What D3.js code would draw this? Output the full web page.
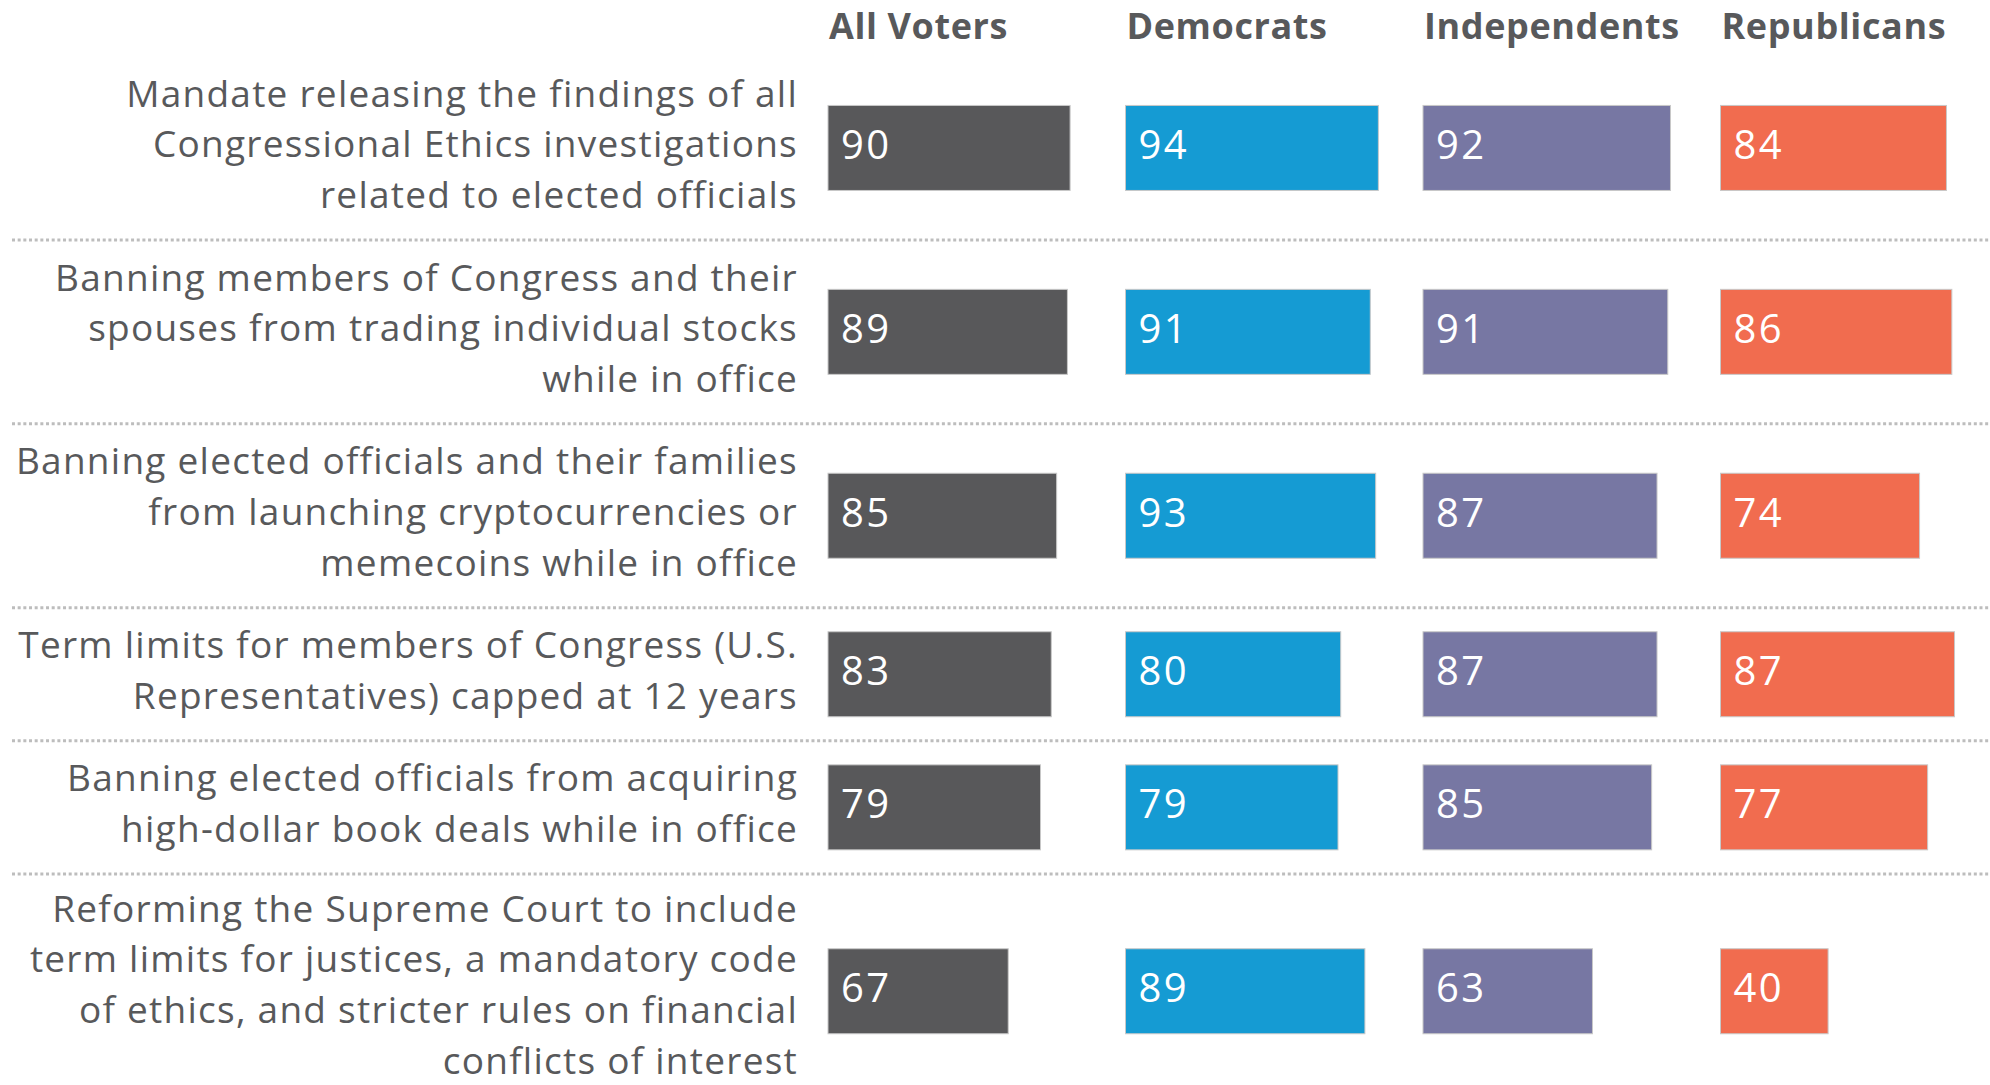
<!DOCTYPE html>
<html>
<head>
<meta charset="utf-8">
<script src="https://cdn.jsdelivr.net/npm/d3@7"></script>
<style>
  html, body { margin: 0; padding: 0; background: #ffffff; }
  svg { display: block; }
</style>
</head>
<body>
<svg id="chart" width="1990" height="1085"></svg>
<script>
// ---- Data ----
const groups = ["All Voters", "Democrats", "Independents", "Republicans"];
const categories = [
  ["Mandate releasing the findings of all", "Congressional Ethics investigations", "related to elected officials"],
  ["Banning members of Congress and their", "spouses from trading individual stocks", "while in office"],
  ["Banning elected officials and their families", "from launching cryptocurrencies or", "memecoins while in office"],
  ["Term limits for members of Congress (U.S.", "Representatives) capped at 12 years"],
  ["Banning elected officials from acquiring", "high-dollar book deals while in office"],
  ["Reforming the Supreme Court to include", "term limits for justices, a mandatory code", "of ethics, and stricter rules on financial", "conflicts of interest"]
];
const allVoters    = [90, 89, 85, 83, 79, 67];
const democrats    = [94, 91, 93, 80, 79, 89];
const independents = [92, 91, 87, 87, 85, 63];
const republicans  = [84, 86, 74, 87, 77, 40];
const colors = ["#58585a", "#159bd3", "#7777a3", "#f16c4f"];

const seriesValues = [allVoters, democrats, independents, republicans];

// ---- Layout ----
const W = 1990, H = 1085;
const svg = d3.select("#chart");
const textColor = "#58595b";
const font = "'Open Sans', Lato, sans-serif";
const lineH = 50.8;
const rowPad = 31.5;
const firstRowTop = 56;
const labelRight = 798;
const barH = 85;
const labelSize = 37;

const rows = [];
let yCursor = firstRowTop;
categories.forEach((lines, i) => {
  const h = lines.length * lineH + rowPad;
  rows.push({ i, lines, top: yCursor, h, center: yCursor + h / 2 });
  yCursor += h;
});

const col = d3.scaleBand().domain(groups).range([828, 828 + 4 * 297.5]).paddingInner(0).paddingOuter(0);
const x = d3.scaleLinear().domain([0, 100]).range([0, 269]);

// Headers
svg.append("g").selectAll("text")
  .data(groups)
  .join("text")
  .attr("x", d => col(d) + 1)
  .attr("y", 39)
  .attr("fill", textColor)
  .attr("font-family", font)
  .attr("font-weight", 700)
  .attr("font-size", 36)
  .attr("letter-spacing", 0.6)
  .text(d => d);

// Separators (dotted)
svg.append("g").selectAll("line")
  .data(rows.slice(0, rows.length - 1))
  .join("line")
  .attr("x1", 12)
  .attr("x2", W)
  .attr("y1", d => d.top + d.h)
  .attr("y2", d => d.top + d.h)
  .attr("stroke", "#bdbdbd")
  .attr("stroke-width", 3)
  .attr("stroke-dasharray", "3,2.67");

// Category labels (kept inside the canvas)
const lab = svg.append("g").selectAll("text")
  .data(rows)
  .join("text")
  .attr("text-anchor", "end")
  .attr("fill", textColor)
  .attr("font-family", font)
  .attr("font-weight", 400)
  .attr("font-size", labelSize)
  .attr("letter-spacing", 1.25);
lab.selectAll("tspan")
  .data(d => {
    const n = d.lines.length;
    const lastBase = d.center + 9.5 + ((n - 1) / 2) * lineH;
    const shift = Math.min(0, (H - labelSize * 0.3) - lastBase);
    return d.lines.map((t, k) => ({ t, k, n, c: d.center + shift }));
  })
  .join("tspan")
  .attr("x", labelRight)
  .attr("y", d => d.c + 9.5 + (d.k - (d.n - 1) / 2) * lineH)
  .text(d => d.t);

// Bars
const cells = [];
rows.forEach(r => {
  groups.forEach((g, gi) => {
    cells.push({ row: r, g, gi, v: seriesValues[gi][r.i] });
  });
});

const cell = svg.append("g").selectAll("g")
  .data(cells)
  .join("g");

cell.append("rect")
  .attr("x", d => col(d.g))
  .attr("y", d => d.row.center - barH / 2)
  .attr("width", d => x(d.v))
  .attr("height", barH)
  .attr("fill", d => colors[d.gi])
  .attr("stroke", "#c8c8c8")
  .attr("stroke-width", 1);

cell.append("text")
  .attr("x", d => col(d.g) + 13)
  .attr("y", d => d.row.center + 11)
  .attr("fill", "#ffffff")
  .attr("font-family", font)
  .attr("font-weight", 400)
  .attr("font-size", 40)
  .attr("letter-spacing", 2.5)
  .text(d => d.v);
</script>
</body>
</html>
